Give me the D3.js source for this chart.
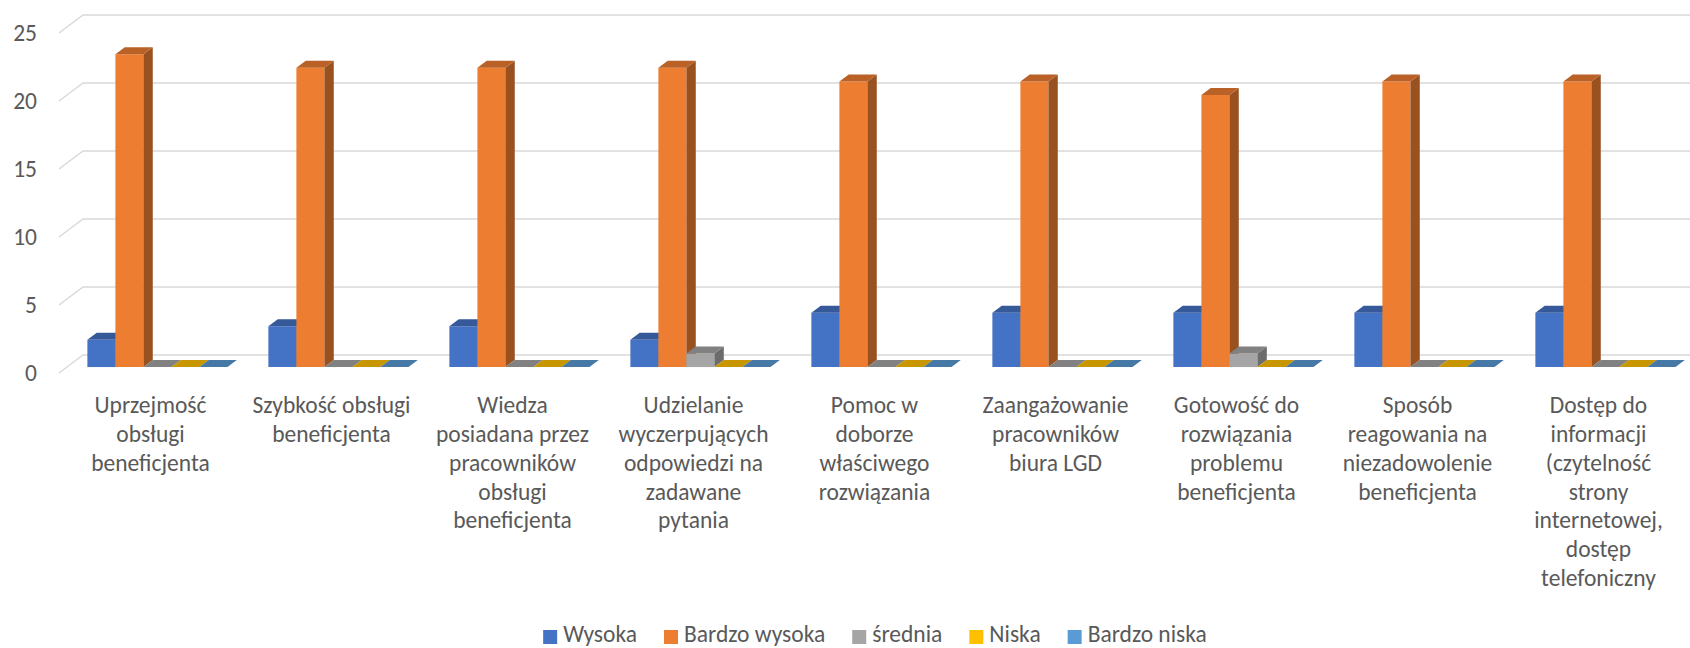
<!DOCTYPE html>
<html>
<head>
<meta charset="utf-8">
<script src="https://cdn.jsdelivr.net/npm/d3@7"></script>
<style>
  body { margin: 0; background: #fff; }
  svg text { font-family: Carlito, Calibri, Lato, sans-serif; fill: #595959; }
</style>
</head>
<body>
<svg id="chart" width="1690" height="648"></svg>
<script>
const categories = [
    ['Uprzejmość', 'obsługi', 'beneficjenta'],
    ['Szybkość obsługi', 'beneficjenta'],
    ['Wiedza', 'posiadana przez', 'pracowników', 'obsługi', 'beneficjenta'],
    ['Udzielanie', 'wyczerpujących', 'odpowiedzi na', 'zadawane', 'pytania'],
    ['Pomoc w', 'doborze', 'właściwego', 'rozwiązania'],
    ['Zaangażowanie', 'pracowników', 'biura LGD'],
    ['Gotowość do', 'rozwiązania', 'problemu', 'beneficjenta'],
    ['Sposób', 'reagowania na', 'niezadowolenie', 'beneficjenta'],
    ['Dostęp do', 'informacji', '(czytelność', 'strony', 'internetowej,', 'dostęp', 'telefoniczny']
];
const seriesNames = ['Wysoka', 'Bardzo wysoka', 'średnia', 'Niska', 'Bardzo niska'];
const seriesColors = ['#4472C4', '#ED7D31', '#A5A5A5', '#FFC000', '#5B9BD5'];
const wysoka = [2, 3, 3, 2, 4, 4, 4, 4, 4];
const bardzoWysoka = [23, 22, 22, 22, 21, 21, 20, 21, 21];
const srednia = [0, 0, 0, 1, 0, 0, 1, 0, 0];
const niska = [0, 0, 0, 0, 0, 0, 0, 0, 0];
const bardzoNiska = [0, 0, 0, 0, 0, 0, 0, 0, 0];
const yTicks = [0, 5, 10, 15, 20, 25];

const values = [wysoka, bardzoWysoka, srednia, niska, bardzoNiska];
const catIdx = d3.range(categories.length);

// wall depth (oblique projection) and bar depth range
const DX = 24, DY = 18;
const zA = 0.33, zB = 0.72;
const fontSize = '23.5px';

const svg = d3.select('#chart');

const x0 = d3.scaleBand()
    .domain(catIdx)
    .range([59, 1688]);
const x1 = d3.scaleBand()
    .domain(d3.range(seriesNames.length))
    .range([0, x0.bandwidth()])
    .paddingOuter(0.73);
const y = d3.scaleLinear()
    .domain([0, 25])
    .range([373, 33]);

// gridlines: side wall diagonal + back wall
const grid = svg.append('g');
yTicks.forEach((t) => {
    grid.append('path')
        .attr('d', 'M' + x0.range()[0] + ',' + y(t) +
                   'L' + (x0.range()[0] + DX) + ',' + (y(t) - DY) +
                   'L1690,' + (y(t) - DY))
        .attr('fill', 'none')
        .attr('stroke', '#d9d9d9')
        .attr('stroke-width', 1.5);
});

svg.append('g').selectAll('text')
    .data(yTicks)
    .enter().append('text')
    .attr('x', 37)
    .attr('y', (d) => y(d))
    .attr('dy', '0.35em')
    .attr('text-anchor', 'end')
    .style('font-size', fontSize)
    .text((d) => d);

// bars, drawn left to right so each front face covers the previous side face
const bars = svg.append('g');
catIdx.forEach((c) => {
    seriesNames.forEach((s, i) => {
        const v = values[i][c];
        const col = d3.color(seriesColors[i]);
        const xl = x0(c) + x1(i) + DX * zA;
        const xr = xl + x1.bandwidth();
        const yb = y(0) - DY * zA;
        const yt = y(v) - DY * zA;
        const ox = DX * (zB - zA), oy = DY * (zB - zA);
        const g = bars.append('g');
        if (v > 0) {
            g.append('polygon')
                .attr('points', [[xl, yb], [xr, yb], [xr, yt], [xl, yt]].join(' '))
                .attr('fill', col.formatHex());
            g.append('polygon')
                .attr('points', [[xr, yb], [xr + ox, yb - oy], [xr + ox, yt - oy], [xr, yt]].join(' '))
                .attr('fill', col.darker(1.2).formatHex());
        }
        g.append('polygon')
            .attr('points', [[xl, yt], [xr, yt], [xr + ox, yt - oy], [xl + ox, yt - oy]].join(' '))
            .attr('fill', col.darker(0.7).formatHex());
    });
});

// category labels
const labels = svg.append('g');
catIdx.forEach((c) => {
    const cx = x0(c) + x0.bandwidth() / 2 + 1;
    labels.append('text')
        .attr('x', cx)
        .attr('y', 405)
        .attr('text-anchor', 'middle')
        .style('font-size', fontSize)
        .selectAll('tspan')
        .data(categories[c])
        .enter().append('tspan')
        .attr('x', cx)
        .attr('dy', (d, j) => j === 0 ? '0.35em' : '28.8px')
        .text((d) => d);
});

// legend, centred under the plot
const legend = svg.append('g');
let lx = 0;
seriesNames.forEach((s, i) => {
    const it = legend.append('g')
        .attr('transform', 'translate(' + lx + ',0)');
    it.append('rect')
        .attr('width', 14)
        .attr('height', 14)
        .attr('y', -12)
        .attr('fill', seriesColors[i]);
    const t = it.append('text')
        .attr('x', 20)
        .style('font-size', fontSize)
        .text(s);
    lx += 20 + t.node().getComputedTextLength() + 27;
});
const legendW = lx - 27;
legend.attr('transform', 'translate(' + (875 - legendW / 2) + ',642)');
</script>
</body>
</html>
